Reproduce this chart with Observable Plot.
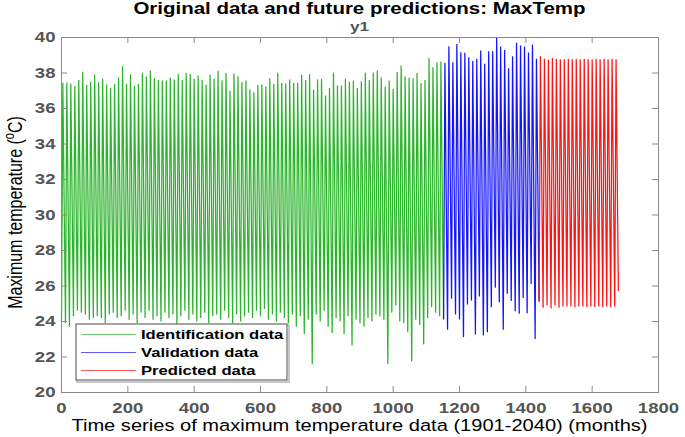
<!DOCTYPE html>
<html>
<head>
<meta charset="utf-8">
<script src="https://cdn.jsdelivr.net/npm/d3@7"></script>
<script src="https://cdn.jsdelivr.net/npm/@observablehq/plot@0.6"></script>
<style>
  html, body { margin: 0; padding: 0; background: #fff; }
  #chart { width: 685px; height: 437px; overflow: hidden; }
</style>
</head>
<body>
<div id="chart"></div>
<script>
// ---- data ----
const xTicks = [0, 200, 400, 600, 800, 1000, 1200, 1400, 1600, 1800];
const yTicks = [20, 22, 24, 26, 28, 30, 32, 34, 36, 38, 40];
const seriesNames = ["Identification data", "Validation data", "Predicted data"];
const seriesColors = ["#2cb42c", "#1414ff", "#ff1414"];

// yearly maxima / minima (°C), identification period 1901-1996 (months 0-1151)
const idPeaks = [37.45,37.45,37.4,37.26,37.6,38.07,37.33,37.5,37.9,37.48,
  37.67,37.35,37.15,37.39,37.76,38.38,37.39,37.93,37.28,37.39,
  38.01,37.8,38.14,37.71,37.61,37.58,37.58,37.73,37.63,37.95,
  37.6,38.0,37.95,37.67,37.86,37.6,37.35,37.9,37.67,38.12,
  37.58,38.0,37.0,37.97,37.82,37.48,37.58,37.09,36.92,
  37.33,37.35,37.24,37.71,37.39,38.01,37.43,37.41,37.63,37.43,
  37.45,37.9,37.6,37.93,37.05,37.63,37.67,36.73,37.15,38.01,
  37.29,37.29,37.67,37.52,37.58,37.16,37.54,38.01,37.6,38.01,
  38.14,37.76,37.24,37.58,37.11,38.05,38.42,37.82,37.73,37.71,
  38.0,37.43,37.6,38.85,38.33,38.61,38.65];
const idTroughs = [24.0,23.9,23.7,24.3,24.6,24.5,24.4,24.1,24.2,24.3,
  24.2,23.9,24.4,24.5,24.2,24.3,24.6,24.1,24.4,23.9,
  24.5,24.2,24.6,24.1,24.3,24.0,24.5,24.2,24.4,23.8,
  24.3,24.6,24.1,24.4,24.0,24.2,24.5,23.9,24.3,24.4,
  24.1,24.6,24.2,23.9,24.4,24.0,24.3,24.5,
  24.2,24.6,24.3,24.7,24.1,24.4,24.0,24.5,24.2,23.9,
  24.4,23.7,24.3,23.3,24.1,21.6,24.4,24.0,24.6,23.7,
  23.35,24.2,24.0,23.3,24.3,22.65,24.1,23.9,23.7,24.2,
  24.0,24.4,24.3,24.1,21.6,24.5,24.9,24.0,23.9,23.4,
  21.75,24.1,23.8,22.7,24.2,24.8,24.5,24.3];
// validation period 1997-2020 (months 1152-1439)
const valPeaks = [38.57,39.51,38.61,39.64,39.17,39.14,38.89,38.67,38.8,39.27,
  38.52,39.23,39.23,39.98,39.49,39.3,38.27,38.95,39.7,39.55,
  39.49,39.15,39.6,38.8];
const valTroughs = [24.15,23.53,25.28,24.4,24.11,23.12,24.96,25.18,23.27,25.41,
  23.21,23.4,24.81,25.9,25.09,23.53,25.56,25.15,24.58,24.43,
  25.33,24.47,26.12,23.02];
// predicted period 2021-2040 (months 1440-1679)
const predPeaks = [38.95,38.8,38.75,38.85,38.8,38.78,38.78,38.8,38.78,38.8,
  38.78,38.8,38.78,38.76,38.8,38.78,38.8,38.78,38.8,38.78];
const predTroughs = [25.15,24.77,24.9,24.73,24.9,24.77,24.85,24.85,24.85,24.81,
  24.85,24.85,24.81,24.85,24.81,24.85,24.81,24.85,24.81,24.85];
const predEnd = 25.75;
const startYears = [0, 96, 120];

// ---- build the monthly turning-point table ----
function turningPoints(series, y0, troughs, peaks, next) {
  const rows = [];
  troughs.forEach((t, i) => {
    rows.push({series, month: 12 * (y0 + i), temp: t});
    rows.push({series, month: 12 * (y0 + i) + 4, temp: peaks[i]});
  });
  rows.push({series, month: next.month, temp: next.temp});
  return rows;
}
const data = [
  ...turningPoints(seriesNames[0], startYears[0], idTroughs, idPeaks, {month: 12 * startYears[1], temp: valTroughs[0]}),
  ...turningPoints(seriesNames[1], startYears[1], valTroughs, valPeaks, {month: 12 * startYears[2], temp: predTroughs[0]}),
  ...turningPoints(seriesNames[2], startYears[2], predTroughs, predPeaks, {month: 1679, temp: predEnd})
];

const W = 685, H = 437, mL = 61, mR = 27, mT = 37, mB = 45;
const fw = W - mL - mR, fh = H - mT - mB, tk = 6;
const axisGray = "#8a8a8a";

const chart = Plot.plot({
  width: W, height: H,
  marginLeft: mL, marginRight: mR, marginTop: mT, marginBottom: mB,
  style: {fontFamily: "'Liberation Sans', Arial, sans-serif", background: "#fff", overflow: "visible"},
  x: {domain: [0, 1800]},
  y: {domain: [20, 40]},
  color: {domain: seriesNames, range: seriesColors},
  marks: [
    Plot.line(data, {x: "month", y: "temp", z: "series", stroke: "series", strokeWidth: 1.25, strokeLinejoin: "miter"}),
    Plot.frame({stroke: axisGray, strokeWidth: 1}),
    Plot.tickX(xTicks, {x: d => d, insetTop: fh - tk, stroke: axisGray}),
    Plot.tickX(xTicks, {x: d => d, insetBottom: fh - tk, stroke: axisGray}),
    Plot.tickY(yTicks, {y: d => d, insetRight: fw - tk, stroke: axisGray}),
    Plot.tickY(yTicks, {y: d => d, insetLeft: fw - tk, stroke: axisGray}),
    Plot.axisX({ticks: xTicks, tickSize: 0, tickPadding: 10, label: null, fontSize: 14, fontWeight: "bold", fill: "#555", tickFormat: d => String(d)}),
    Plot.axisY({ticks: yTicks, tickSize: 0, tickPadding: 6, label: null, fontSize: 14, fontWeight: "bold", fill: "#555", tickFormat: d => String(d)})
  ]
});
document.getElementById("chart").appendChild(chart);

const S = 1.28; // the reference text is horizontally widened
function stretch(el) {
  const t = el.getAttribute("transform") || "";
  const x = +el.getAttribute("x") || 0, y = +el.getAttribute("y") || 0;
  el.setAttribute("transform", `${t} translate(${x},${y}) scale(${S},1) translate(${-x},${-y})`);
}
const svg = d3.select(chart);
svg.selectAll('g[aria-label="x-axis tick label"], g[aria-label="y-axis tick label"]')
  .attr("font-weight", "bold").attr("fill", "#555").attr("font-size", 14.5);
svg.selectAll('g[aria-label="x-axis tick label"] text, g[aria-label="y-axis tick label"] text').each(function() { stretch(this); });

const font = "'Liberation Sans', Arial, sans-serif";
// title and subtitle
svg.append("text").attr("x", mL + fw / 2).attr("y", 14).attr("text-anchor", "middle")
  .attr("font-family", font).attr("font-weight", "bold").attr("font-size", 16).attr("fill", "#000")
  .text("Original data and future predictions: MaxTemp").each(function() { stretch(this); });
svg.append("text").attr("x", mL + fw / 2).attr("y", 31).attr("text-anchor", "middle")
  .attr("font-family", font).attr("font-weight", "bold").attr("font-size", 13.5).attr("fill", "#555")
  .text("y1").each(function() { stretch(this); });
// x label
svg.append("text").attr("x", mL + fw / 2).attr("y", 431).attr("text-anchor", "middle")
  .attr("font-family", font).attr("font-size", 15.7).attr("fill", "#000")
  .text("Time series of maximum temperature data (1901-2040) (months)").each(function() { stretch(this); });
// y label with superscript
const yl = svg.append("text")
  .attr("transform", `translate(22,${mT + fh / 2 - 2}) scale(${S},1) rotate(-90)`)
  .attr("text-anchor", "middle").attr("font-family", font).attr("font-size", 16).attr("fill", "#000");
yl.append("tspan").text("Maximum temperature (");
yl.append("tspan").attr("font-size", 11).attr("dy", -6).text("o");
yl.append("tspan").attr("dy", 6).text("C)");

// legend box
const lg = svg.append("g").attr("font-family", font).attr("text-anchor", "start");
lg.append("rect").attr("x", 77).attr("y", 325).attr("width", 212).attr("height", 57)
  .attr("fill", "none").attr("stroke", "#c8c8c8").attr("stroke-width", 2);
lg.append("rect").attr("x", 76).attr("y", 324).attr("width", 211).attr("height", 56)
  .attr("fill", "#fff").attr("stroke", "#6a6a6a").attr("stroke-width", 1.2);
seriesNames.forEach((name, i) => {
  const yy = 334.5 + i * 18;
  lg.append("line").attr("x1", 81).attr("x2", 136).attr("y1", yy).attr("y2", yy)
    .attr("stroke", seriesColors[i]).attr("stroke-opacity", 0.7).attr("stroke-width", 1.2);
  lg.append("text").attr("x", 141).attr("y", yy + 4.8).attr("text-anchor", "start")
    .attr("font-weight", "bold").attr("font-size", 13)
    .attr("fill", "#000").text(name).each(function() { stretch(this); });
});
</script>
</body>
</html>
